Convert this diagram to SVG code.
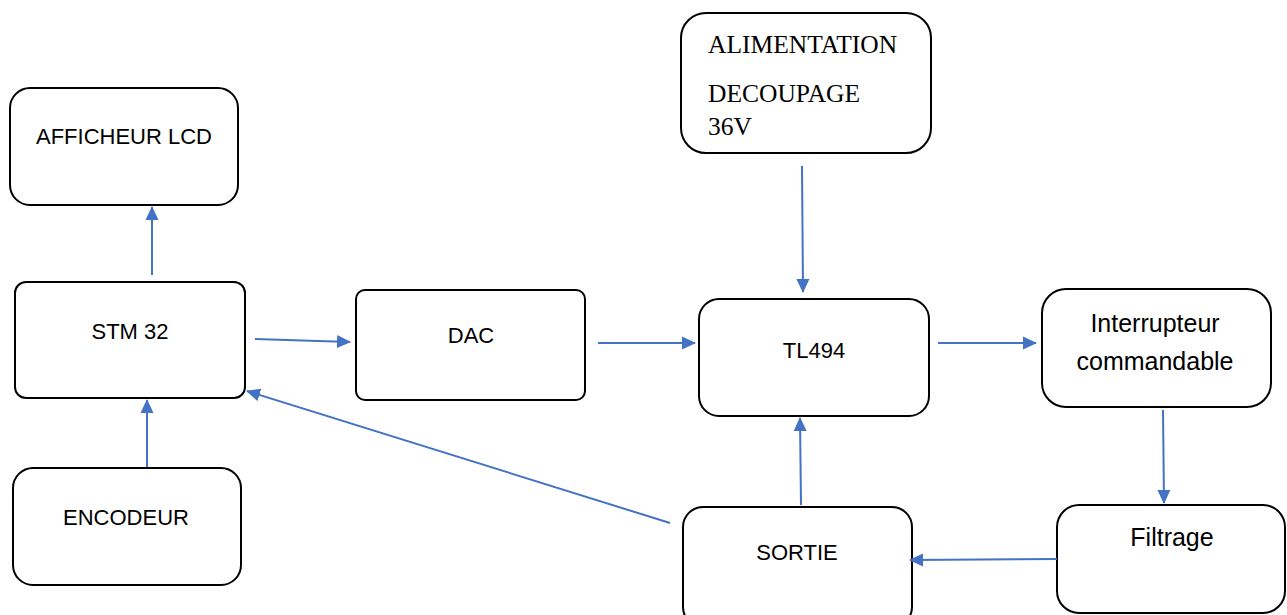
<svg xmlns="http://www.w3.org/2000/svg" width="1287" height="615" viewBox="0 0 1287 615">
<style>
.box{fill:#fff;stroke:#000;stroke-width:2}
.t{font-family:"Liberation Sans",Arial,sans-serif;font-size:22px;fill:#000;text-anchor:middle}
.lc{font-size:25px}
.tr{font-family:"Liberation Serif","Times New Roman",serif;font-size:25.5px;fill:#000}
.c{stroke:#4472C4;stroke-width:2;fill:none;marker-end:url(#ah)}
</style>
<defs>
<marker id="ah" markerUnits="userSpaceOnUse" markerWidth="14" markerHeight="14" viewBox="0 0 14 14" refX="13" refY="7" orient="auto">
<path d="M0,0.5 L14,7 L0,13.5 Z" fill="#4472C4"/>
</marker>
</defs>
<rect width="1287" height="615" fill="#fff"/>
<g id="afficheur">
<rect class="box" x="10" y="88" width="228" height="117" rx="20"/>
<text class="t" x="124" y="144">AFFICHEUR LCD</text>
</g>
<g id="alimentation">
<rect class="box" x="681" y="13" width="250" height="140" rx="25"/>
<text class="tr" x="708" y="53">ALIMENTATION</text>
<text class="tr" x="708" y="102">DECOUPAGE</text>
<text class="tr" x="708" y="135">36V</text>
</g>
<g id="stm32">
<rect class="box" x="15" y="282" width="230" height="116" rx="11"/>
<text class="t" x="130" y="339" font-size="24">STM 32</text>
</g>
<g id="dac">
<rect class="box" x="356" y="290" width="229" height="110" rx="9"/>
<text class="t" x="471" y="343" font-size="23">DAC</text>
</g>
<g id="tl494">
<rect class="box" x="699" y="299" width="230" height="117" rx="20"/>
<text class="t" x="814" y="358" font-size="24">TL494</text>
</g>
<g id="interrupteur">
<rect class="box" x="1042" y="289" width="229" height="118" rx="24"/>
<text class="t lc" x="1155" y="332">Interrupteur</text>
<text class="t lc" x="1155" y="370">commandable</text>
</g>
<g id="encodeur">
<rect class="box" x="13" y="468" width="228" height="117" rx="20"/>
<text class="t" x="126" y="525">ENCODEUR</text>
</g>
<g id="sortie">
<rect class="box" x="683" y="507" width="229" height="120" rx="20"/>
<text class="t" x="797" y="560">SORTIE</text>
</g>
<g id="filtrage">
<rect class="box" x="1057" y="505" width="228" height="108" rx="22"/>
<text class="t lc" x="1172" y="546">Filtrage</text>
</g>
<g id="connectors">
<line class="c" x1="152" y1="275" x2="152" y2="207"/>
<line class="c" x1="147" y1="467" x2="147" y2="400"/>
<line class="c" x1="255" y1="339" x2="350" y2="342"/>
<line class="c" x1="598" y1="343" x2="695" y2="343"/>
<line class="c" x1="802" y1="166" x2="803" y2="292"/>
<line class="c" x1="938" y1="343" x2="1036" y2="343"/>
<line class="c" x1="1163" y1="410" x2="1164" y2="503"/>
<line class="c" x1="1057" y1="559" x2="910" y2="560"/>
<line class="c" x1="801" y1="505" x2="800" y2="418"/>
<line class="c" x1="670" y1="523" x2="247" y2="391"/>
</g>
</svg>
